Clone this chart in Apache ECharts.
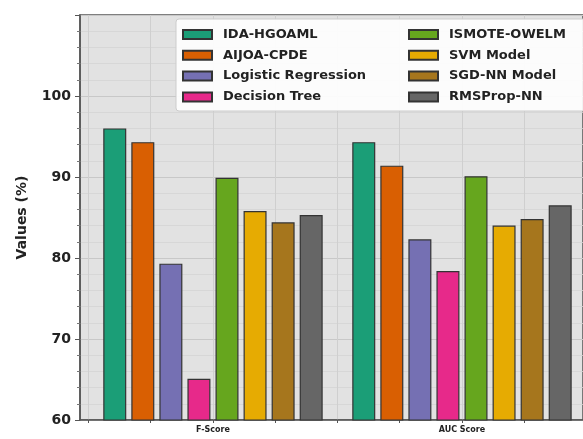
<!DOCTYPE html>
<html>
<head>
<meta charset="utf-8">
<script src="https://cdn.jsdelivr.net/npm/echarts@6/dist/echarts.min.js"></script>
<style>
    html, body { margin: 0; padding: 0; background: #fff; }
    #chart { width: 583px; height: 439px; }
</style>
</head>
<body>
<div id="chart"></div>
<script>
/* 各模型在 F-Score / AUC Score 上的对比 */

const metrics = ['F-Score', 'AUC Score'];
const models = ['IDA-HGOAML', 'AIJOA-CPDE', 'Logistic Regression', 'Decision Tree',
                'ISMOTE-OWELM', 'SVM Model', 'SGD-NN Model', 'RMSProp-NN'];
const fScore = [96.0, 94.3, 79.3, 65.1, 89.9, 85.8, 84.4, 85.3];
const aucScore = [94.3, 91.4, 82.3, 78.4, 90.1, 84.0, 84.8, 86.5];
const colors = ['#1b9e77', '#d95f02', '#7570b3', '#e7298a', '#66a61e', '#e6ab02', '#a6761d', '#666666'];
const xTicks = [-0.5, -0.25, 0, 0.25, 0.5, 0.75, 1, 1.25];

const FONT = 'DejaVu Sans';

let series = models.map(function(name, i) {
    return {
        type: 'bar',
        name: name,
        data: [[0, fScore[i]], [1, aucScore[i]]],
        barWidth: 23,
        barGap: '22%',
        itemStyle: {
            color: colors[i],
            borderColor: '#333',
            borderWidth: 1.2
        }
    };
});

function legendAt(left, names) {
    return {
        data: names,
        orient: 'vertical',
        left: left,
        top: 28,
        z: 10,
        padding: 0,
        icon: 'rect',
        itemWidth: 29,
        itemHeight: 9,
        itemGap: 7.8,
        textStyle: {
            fontFamily: FONT,
            fontWeight: 'bold',
            fontSize: 13,
            color: '#222',
            padding: [0, 0, 0, 6]
        }
    };
}

let option = {
    animation: false,
    backgroundColor: '#fff',
    grid: {
        left: 80,
        right: 0,
        top: 15,
        bottom: 19,
        show: true,
        backgroundColor: '#e2e2e2',
        borderColor: '#555',
        borderWidth: 1.5
    },
    graphic: [{
        type: 'rect',
        z: 3,
        shape: { x: 176, y: 19, width: 420, height: 92, r: 3 },
        style: { fill: 'rgba(255,255,255,0.9)', stroke: '#ccc', lineWidth: 1 }
    }],
    legend: [legendAt(182, models.slice(0, 4)), legendAt(408, models.slice(4))],
    xAxis: {
        type: 'value',
        min: -0.534,
        max: 1.486,
        axisLine: { onZero: false, lineStyle: { color: '#555', width: 1.5 } },
        axisTick: { show: true, length: 3, customValues: xTicks, lineStyle: { color: '#555' } },
        axisLabel: {
            customValues: [0, 1],
            formatter: function(v) { return metrics[Math.round(v)]; },
            fontFamily: FONT,
            fontWeight: 'bold',
            fontSize: 8,
            color: '#222',
            margin: 6
        },
        splitLine: { show: true, lineStyle: { color: '#cfcfcf', width: 1 } }
    },
    yAxis: {
        type: 'value',
        min: 60,
        max: 110,
        interval: 10,
        name: 'Values (%)',
        nameLocation: 'middle',
        nameGap: 51,
        nameTextStyle: { fontFamily: FONT, fontWeight: 'bold', fontSize: 14, color: '#222' },
        axisLine: { show: true, onZero: false, lineStyle: { color: '#555', width: 1.5 } },
        axisTick: { show: true, length: 5, lineStyle: { color: '#555' } },
        minorTick: { show: true, splitNumber: 5, length: 3, lineStyle: { color: '#777' } },
        axisLabel: {
            fontFamily: FONT,
            fontWeight: 'bold',
            fontSize: 14,
            color: '#222',
            margin: 9,
            formatter: function(v) { return v > 100 ? '' : v; }
        },
        splitLine: { show: true, lineStyle: { color: '#c8c8c8', width: 1 } },
        minorSplitLine: { show: true, lineStyle: { color: '#d4d4d4', width: 0.8 } }
    },
    series: series
};

let chart = echarts.init(document.getElementById('chart'));
chart.setOption(option);
</script>
</body>
</html>
